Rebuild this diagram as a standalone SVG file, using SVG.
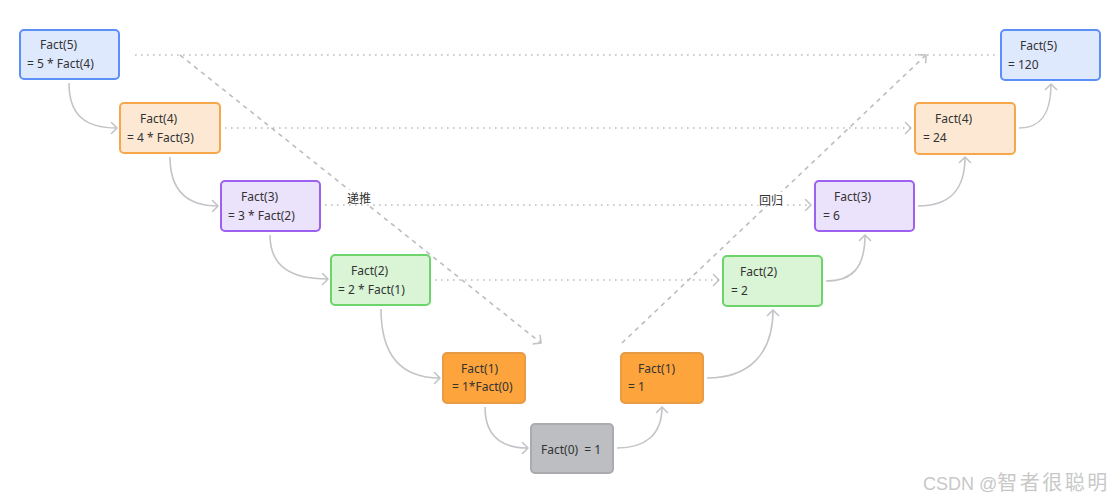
<svg xmlns="http://www.w3.org/2000/svg" width="1119" height="503" viewBox="0 0 1119 503">
<defs>
<marker id="chev" markerUnits="userSpaceOnUse" markerWidth="10" markerHeight="14" refX="7" refY="7" orient="auto">
<path d="M1.5,1.5 L7,7 L1.5,12.5" fill="none" stroke="#c2c4c8" stroke-width="1.6" stroke-linecap="round" stroke-linejoin="round"/>
</marker>
</defs>
<style>
text{font-family:"Noto Sans","Liberation Sans","Noto Sans CJK SC",sans-serif;font-size:12px;fill:#333;}
.box{stroke-width:2;}
.blue{fill:#dfe9fd;stroke:#5d8ff8;}
.lor{fill:#fde9d3;stroke:#f6a74b;}
.pur{fill:#ebe2fc;stroke:#9c62ef;}
.grn{fill:#d9f5d6;stroke:#6cd46a;}
.dor{fill:#fda43c;stroke:#e79b45;}
.gry{fill:#bcbec2;stroke:#a9abaf;}
.curve{fill:none;stroke:#c2c4c8;stroke-width:1.6;}
.dot{fill:none;stroke:#bdbdbd;stroke-width:1.6;stroke-dasharray:1.6 4.4;}
.dash{fill:none;stroke:#bdbdbd;stroke-width:1.6;stroke-dasharray:4.5 4.5;}
.wm{font-size:18px;fill:#c8c8c8;font-family:"Liberation Sans","Noto Sans CJK SC",sans-serif;}
</style>
<rect width="1119" height="503" fill="#ffffff"/>
<g id="connectors">
<path class="dot" d="M135,55 L998,55"/>
<path class="dot" d="M225,128 L911,128" marker-end="url(#chev)"/>
<path class="dot" d="M325,205 L811,205" marker-end="url(#chev)"/>
<path class="dot" d="M435,280 L719,280" marker-end="url(#chev)"/>
<path class="dash" d="M180,55 L541,343" marker-end="url(#chev)"/>
<path class="dash" d="M622,343 L926,55" marker-end="url(#chev)"/>
<path class="curve" d="M69,83 C69,115 85,128 117,128" marker-end="url(#chev)"/>
<path class="curve" d="M170,157 C170,190 186,206 218,206" marker-end="url(#chev)"/>
<path class="curve" d="M270,235 C270,266 290,279 328,279" marker-end="url(#chev)"/>
<path class="curve" d="M381,309 C381,355 400,378 440,378" marker-end="url(#chev)"/>
<path class="curve" d="M485,407 C485,433 498,448 528,448" marker-end="url(#chev)"/>
<path class="curve" d="M617,448 C645,448 662,435 662,407" marker-end="url(#chev)"/>
<path class="curve" d="M707,378 C748,378 773,355 773,310" marker-end="url(#chev)"/>
<path class="curve" d="M826,281 C852,281 865,268 865,235" marker-end="url(#chev)"/>
<path class="curve" d="M918,206 C948,206 965,192 965,157" marker-end="url(#chev)"/>
<path class="curve" d="M1019,128 C1040,128 1051,115 1051,84" marker-end="url(#chev)"/>
<rect x="345" y="190" width="30" height="14" fill="#ffffff"/>
<text x="347" y="203">递推</text>
<rect x="757" y="192" width="30" height="13" fill="#ffffff"/>
<text x="759" y="205">回归</text>
</g>
<g id="l5"><rect class="box blue" x="20" y="30" width="99" height="49" rx="4"/><text x="40" y="49">Fact(5)</text><text x="27" y="68">= 5 * Fact(4)</text></g>
<g id="l4"><rect class="box lor" x="120" y="103" width="100" height="50" rx="4"/><text x="140" y="123">Fact(4)</text><text x="127" y="142">= 4 * Fact(3)</text></g>
<g id="l3"><rect class="box pur" x="221" y="181" width="99" height="50" rx="4"/><text x="241" y="201">Fact(3)</text><text x="228" y="220">= 3 * Fact(2)</text></g>
<g id="l2"><rect class="box grn" x="331" y="255" width="99" height="50" rx="4"/><text x="351" y="275">Fact(2)</text><text x="338" y="294">= 2 * Fact(1)</text></g>
<g id="l1"><rect class="box dor" x="443" y="353" width="82" height="50" rx="4"/><text x="461" y="373">Fact(1)</text><text x="452" y="391">= 1*Fact(0)</text></g>
<g id="f0"><rect class="box gry" x="531" y="424" width="82" height="49" rx="4"/><text x="541" y="454" xml:space="preserve">Fact(0)  = 1</text></g>
<g id="r1"><rect class="box dor" x="621" y="353" width="82" height="50" rx="4"/><text x="638" y="373">Fact(1)</text><text x="628" y="391">= 1</text></g>
<g id="r2"><rect class="box grn" x="723" y="256" width="99" height="50" rx="4"/><text x="740" y="276">Fact(2)</text><text x="731" y="295">= 2</text></g>
<g id="r3"><rect class="box pur" x="815" y="181" width="99" height="50" rx="4"/><text x="834" y="201">Fact(3)</text><text x="823" y="220">= 6</text></g>
<g id="r4"><rect class="box lor" x="915" y="103" width="100" height="51" rx="4"/><text x="935" y="123">Fact(4)</text><text x="923" y="142">= 24</text></g>
<g id="r5"><rect class="box blue" x="1001" y="30" width="99" height="50" rx="4"/><text x="1020" y="50">Fact(5)</text><text x="1008" y="69">= 120</text></g>
<text class="wm" x="923" y="490">CSDN @<tspan font-size="20" letter-spacing="2.5">智者很聪明</tspan></text>
</svg>
